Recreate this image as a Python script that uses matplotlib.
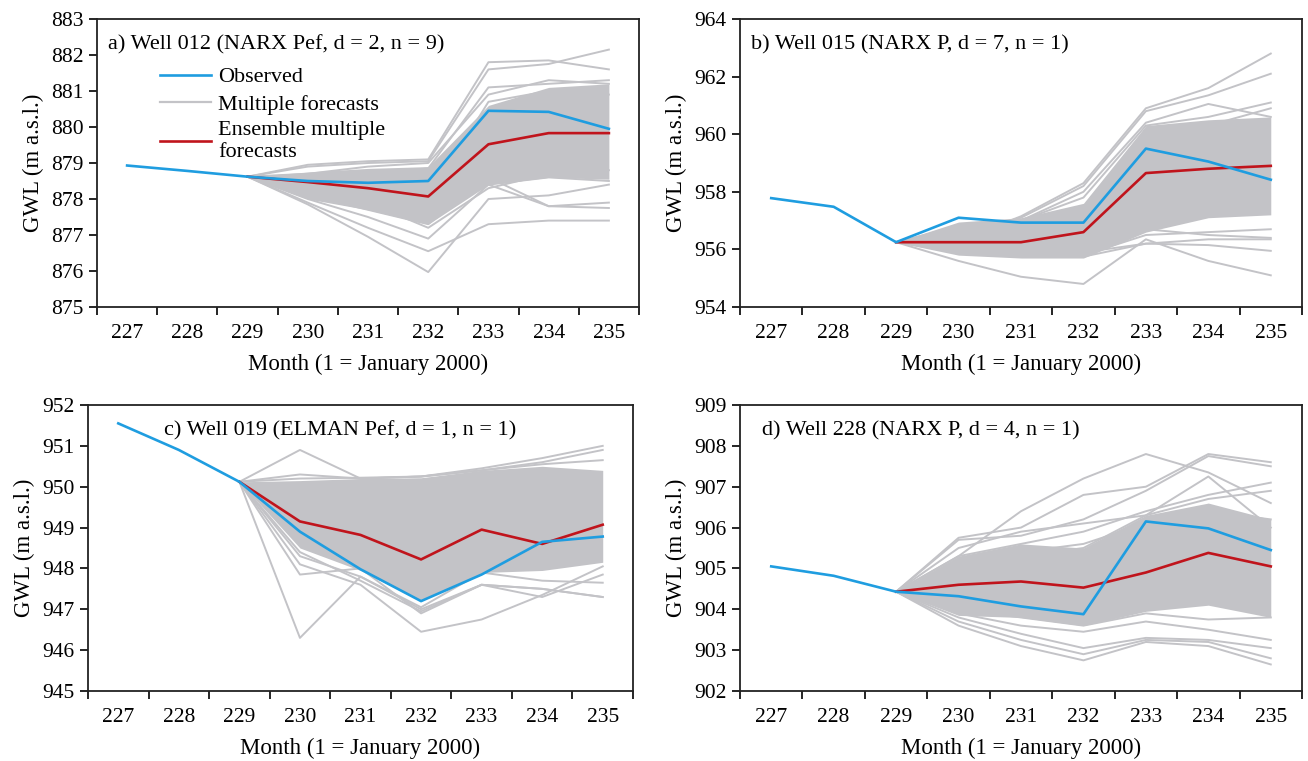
import matplotlib
matplotlib.use("Agg")
import matplotlib.pyplot as plt
import numpy as np

plt.rcParams["font.family"] = ["Liberation Serif", "DejaVu Serif"]
plt.rcParams["font.size"] = 15

months = ["227", "228", "229", "230", "231", "232", "233", "234", "235"]
fc_months = months[2:]  # forecasts start at month 229

# ---- a) Well 012 ----
obs_a = [878.93, 878.78, 878.62, 878.50, 878.45, 878.50, 880.45, 880.42, 879.95]
ens_a = [878.62, 878.47, 878.30, 878.07, 879.52, 879.83, 879.83]
band_lo_a = [878.62, 878.00, 877.70, 877.30, 878.40, 878.60, 878.55]
band_hi_a = [878.62, 878.75, 878.85, 878.90, 880.60, 881.10, 881.20]
fc_a = [
    [878.62, 878.95, 879.05, 879.10, 881.80, 881.85, 881.60],
    [878.62, 878.90, 879.00, 879.05, 881.60, 881.75, 882.15],
    [878.62, 877.85, 876.95, 875.97, 878.00, 878.10, 878.40],
    [878.62, 877.90, 877.20, 876.55, 877.30, 877.40, 877.40],
    [878.62, 878.00, 877.50, 876.90, 878.40, 877.80, 877.75],
    [878.62, 878.10, 877.70, 877.30, 878.60, 877.80, 877.90],
    [878.62, 878.70, 878.90, 879.00, 880.90, 881.30, 881.20],
    [878.62, 878.60, 878.70, 878.85, 881.10, 881.20, 881.30],
    [878.62, 878.40, 878.20, 878.00, 880.70, 881.00, 880.90],
    [878.62, 878.30, 878.10, 877.60, 878.40, 878.60, 878.50],
    [878.62, 878.20, 877.90, 877.20, 878.30, 878.70, 878.80],
]

# ---- b) Well 015 ----
obs_b = [957.78, 957.48, 956.25, 957.10, 956.93, 956.93, 959.50, 959.05, 958.42]
ens_b = [956.25, 956.25, 956.25, 956.60, 958.65, 958.80, 958.90]
band_lo_b = [956.25, 955.80, 955.70, 955.70, 956.60, 957.10, 957.20]
band_hi_b = [956.25, 956.95, 957.10, 957.60, 960.30, 960.50, 960.60]
fc_b = [
    [956.25, 956.30, 957.15, 958.30, 960.90, 961.60, 962.80],
    [956.25, 956.50, 957.10, 958.20, 960.80, 961.35, 962.10],
    [956.25, 956.60, 957.00, 958.00, 960.40, 961.05, 960.60],
    [956.25, 956.50, 957.00, 957.80, 960.30, 960.60, 961.10],
    [956.25, 955.60, 955.05, 954.80, 956.35, 955.60, 955.10],
    [956.25, 955.90, 955.80, 955.75, 956.20, 956.35, 956.35],
    [956.25, 955.95, 955.85, 955.80, 956.50, 956.60, 956.70],
    [956.25, 956.00, 955.90, 955.90, 956.20, 956.15, 955.95],
    [956.25, 956.10, 956.00, 956.10, 956.70, 956.50, 956.40],
    [956.25, 956.80, 957.00, 957.40, 960.10, 960.30, 960.90],
]

# ---- c) Well 019 ----
obs_c = [951.55, 950.90, 950.12, 948.90, 947.98, 947.20, 947.85, 948.65, 948.78]
ens_c = [950.12, 949.15, 948.82, 948.22, 948.95, 948.60, 949.07]
band_lo_c = [950.12, 948.50, 947.95, 947.20, 947.90, 947.95, 948.15]
band_hi_c = [950.12, 950.15, 950.20, 950.22, 950.40, 950.50, 950.40]
fc_c = [
    [950.12, 950.90, 950.20, 950.25, 950.45, 950.70, 951.00],
    [950.12, 950.30, 950.20, 950.25, 950.40, 950.60, 950.90],
    [950.12, 950.20, 950.22, 950.25, 950.40, 950.55, 950.65],
    [950.12, 946.30, 947.80, 947.00, 947.60, 947.50, 947.30],
    [950.12, 947.85, 948.00, 946.90, 947.60, 947.50, 947.30],
    [950.12, 948.10, 947.60, 946.45, 946.75, 947.35, 948.05],
    [950.12, 948.40, 947.70, 946.95, 947.60, 947.30, 947.85],
    [950.12, 948.30, 947.80, 947.05, 947.90, 947.70, 947.65],
]

# ---- d) Well 228 ----
obs_d = [905.05, 904.82, 904.43, 904.32, 904.07, 903.88, 906.15, 905.98, 905.45]
ens_d = [904.43, 904.60, 904.68, 904.53, 904.90, 905.38, 905.05]
band_lo_d = [904.43, 903.85, 903.80, 903.60, 903.95, 904.10, 903.80]
band_hi_d = [904.43, 905.30, 905.60, 905.50, 906.30, 906.60, 906.20]
fc_d = [
    [904.43, 905.30, 906.40, 907.20, 907.80, 907.35, 906.60],
    [904.43, 905.75, 906.00, 906.80, 907.00, 907.80, 907.60],
    [904.43, 905.70, 905.80, 906.20, 906.90, 907.75, 907.50],
    [904.43, 905.50, 905.90, 906.10, 906.30, 907.25, 906.00],
    [904.43, 905.30, 905.60, 905.90, 906.40, 906.80, 907.10],
    [904.43, 905.00, 905.30, 905.50, 906.30, 906.70, 906.90],
    [904.43, 903.60, 903.10, 902.75, 903.20, 903.10, 902.65],
    [904.43, 903.70, 903.25, 902.90, 903.25, 903.20, 902.80],
    [904.43, 903.80, 903.40, 903.05, 903.30, 903.25, 903.05],
    [904.43, 903.90, 903.60, 903.45, 903.70, 903.50, 903.25],
    [904.43, 904.00, 903.80, 903.60, 903.90, 903.75, 903.80],
    [904.43, 905.10, 905.40, 905.60, 906.10, 906.40, 906.20],
]

titles = [
    "a) Well 012 (NARX Pef, d = 2, n = 9)",
    "b) Well 015 (NARX P, d = 7, n = 1)",
    "c) Well 019 (ELMAN Pef, d = 1, n = 1)",
    "d) Well 228 (NARX P, d = 4, n = 1)",
]
ylims = [(875, 883), (954, 964), (945, 952), (902, 909)]
ysteps = [1, 2, 1, 1]

panels = [
    (obs_a, ens_a, band_lo_a, band_hi_a, fc_a),
    (obs_b, ens_b, band_lo_b, band_hi_b, fc_b),
    (obs_c, ens_c, band_lo_c, band_hi_c, fc_c),
    (obs_d, ens_d, band_lo_d, band_hi_d, fc_d),
]

# axes boxes in pixels: left, right, top, bottom
boxes = [(97, 639, 19, 307), (740, 1302, 19, 307),
         (88, 633, 405, 691), (740, 1302, 405, 691)]
title_pos = [(0.02, 0.91), (0.02, 0.91), (0.14, 0.91), (0.04, 0.91)]

OBS_COLOR = "#1f9de0"
ENS_COLOR = "#c0141c"
FC_COLOR = "#c3c3c7"

W, H = 1308, 761
fig = plt.figure(figsize=(W / 100, H / 100), dpi=100)

x_all = np.arange(len(months))
x_fc = np.arange(2, len(months))

for i, (obs, ens, lo, hi, fcs) in enumerate(panels):
    l, r, t, b = boxes[i]
    ax = fig.add_axes([l / W, (H - b) / H, (r - l) / W, (b - t) / H])

    ax.fill_between(x_fc, lo, hi, color=FC_COLOR, linewidth=0, zorder=1)
    for fc in fcs:
        ax.plot(x_fc, fc, color=FC_COLOR, linewidth=1.4, zorder=2)
    ax.plot([], [], color=FC_COLOR, linewidth=1.6, label="Multiple forecasts")
    ax.plot(x_fc, ens, color=ENS_COLOR, linewidth=1.9, zorder=3,
            label="Ensemble multiple\nforecasts")
    ax.plot(x_all, obs, color=OBS_COLOR, linewidth=1.9, zorder=4, label="Observed")

    ax.set_xlim(-0.5, len(months) - 0.5)
    ax.set_ylim(*ylims[i])
    ax.set_yticks(np.arange(ylims[i][0], ylims[i][1] + 0.1, ysteps[i]))
    ax.set_xticks(np.arange(-0.5, len(months), 1))
    ax.set_xticklabels([])
    ax.set_xticks(x_all, labels=months, minor=True)
    ax.tick_params(axis="x", which="major", direction="out", length=6, width=1.2)
    ax.tick_params(axis="x", which="minor", length=0, pad=12, labelsize=15.5)
    ax.tick_params(axis="y", direction="out", length=6, width=1.2, labelsize=15.5)
    for s in ax.spines.values():
        s.set_linewidth(1.3)
        s.set_color("#222222")

    ax.set_xlabel("Month (1 = January 2000)", fontsize=16.5, labelpad=8)
    ax.set_ylabel("GWL (m a.s.l.)", fontsize=16.5, labelpad=5)
    ax.text(title_pos[i][0], title_pos[i][1], titles[i], transform=ax.transAxes,
            fontsize=16, va="center", ha="left")

    if i == 0:
        h, lab = ax.get_legend_handles_labels()
        order = [2, 0, 1]
        ax.legend([h[k] for k in order], [lab[k] for k in order],
                  loc="upper left", bbox_to_anchor=(0.1, 0.865), frameon=False,
                  fontsize=16, handlelength=2.3, labelspacing=0.3,
                  handletextpad=0.3, borderaxespad=0)

fig.savefig("out.png", dpi=100)
